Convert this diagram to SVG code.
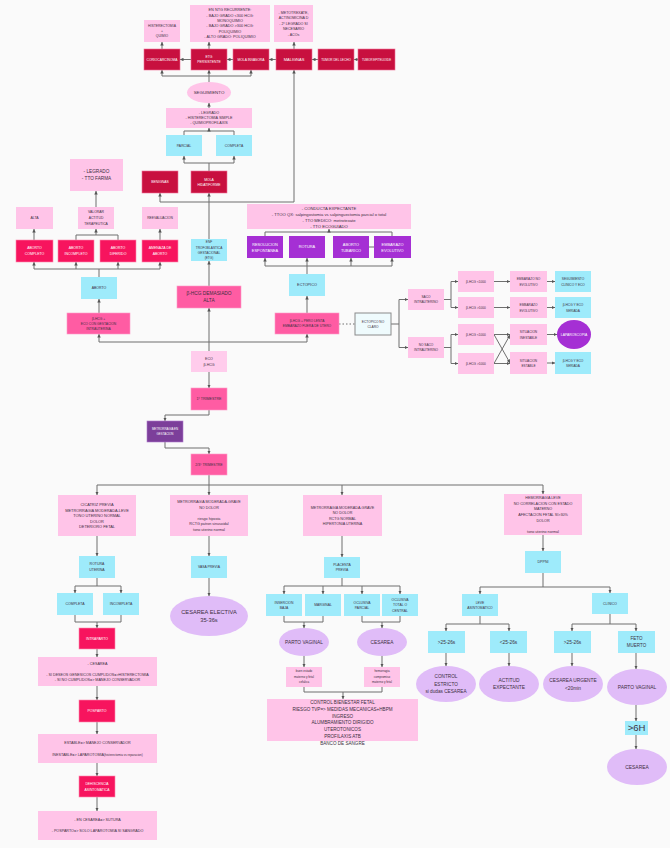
<svg xmlns="http://www.w3.org/2000/svg" width="670" height="848" viewBox="0 0 670 848">
<style>
.lp{fill:#FFC4E8}
.le{fill:#FFCCEC}
.cy{fill:#9EEBFB}
.dk{fill:#C8103F;stroke:#F07098;stroke-width:.6}
.rd{fill:#F7145E;stroke:#FF8AB0;stroke-width:.6}
.hp{fill:#FF5CA3;stroke:#FF9CC8;stroke-width:.6}
.pu{fill:#A52FD4}
.dp{fill:#7C3F9A;stroke:#B07ACC;stroke-width:.6}
.lv{fill:#E0BCF8}
.nc{fill:#EFFBFD;stroke:#8A8A8A;stroke-width:1}
text{font-family:"Liberation Sans",Arial,Helvetica,sans-serif;text-anchor:middle;fill:#3D2F3F}
.w{fill:#fff}
.c path{stroke:#6E6E6E;stroke-width:1;fill:none}
.c path.a{marker-end:url(#ah)}
</style>
<defs>
<marker id="ah" viewBox="0 0 6 6" refX="6" refY="3" markerWidth="3.5" markerHeight="3.5" orient="auto"><path d="M0,0L6,3L0,6z" fill="#555"/></marker>
</defs>
<rect width="670" height="848" fill="#FAFAFA"/>

<g class="c" id="connectors">
<!-- top -->
<path class="a" d="M162,49V42"/>
<path class="a" d="M209,49V42"/>
<path class="a" d="M294,49V42"/>
<path class="a" d="M191,59.5H180"/>
<path class="a" d="M233,59.5H227"/>
<path class="a" d="M276,59.5H269"/>
<path class="a" d="M318,59.5H312"/>
<path class="a" d="M358,59.5H354"/>
<path d="M162,76H251"/>
<path class="a" d="M162,76V70"/>
<path class="a" d="M209,82V70"/>
<path class="a" d="M251,76V70"/>
<path class="a" d="M209,108V103"/>
<path d="M184,135V131H234V135"/>
<path class="a" d="M209,131V128"/>
<path d="M209,171V163M184,163H234"/>
<path class="a" d="M184,163V156"/>
<path class="a" d="M234,163V156"/>
<path class="a" d="M209,239V193"/>
<path d="M160,202H294"/>
<path class="a" d="M160,202V193"/>
<path class="a" d="M294,202V70"/>
<path class="a" d="M209,286V261"/>
<path d="M99,342H307"/>
<path class="a" d="M209,351V308"/>
<path class="a" d="M99,342V334"/>
<path class="a" d="M307,342V334"/>
<path class="a" d="M99,313V299"/>
<path d="M99,277V269M34,269H160"/>
<path class="a" d="M34,269V262"/>
<path class="a" d="M76,269V262"/>
<path class="a" d="M118,269V262"/>
<path class="a" d="M160,269V262"/>
<path class="a" d="M34,240V229"/>
<path d="M76,240V235H118V240"/>
<path class="a" d="M96,235V229"/>
<path class="a" d="M96,207V191"/>
<path class="a" d="M160,240V229"/>
<!-- ectopic -->
<path d="M307,274V266M265,266H392"/>
<path class="a" d="M265,266V258"/>
<path class="a" d="M307,266V258"/>
<path class="a" d="M351,266V258"/>
<path class="a" d="M392,266V258"/>
<path d="M265,236V232H392V236"/>
<path class="a" d="M329,232V229"/>
<path d="M369,247H374"/>
<path class="a" d="M307,313V296"/>
<path d="M339,324H355" stroke-dasharray="1.5,2"/>
<path d="M391,324H399M399,299.5V347.5"/>
<path class="a" d="M399,299.5H408"/>
<path class="a" d="M399,347.5H408"/>
<path d="M444,299.5H451M451,281.5V307.5"/>
<path class="a" d="M451,281.5H458"/>
<path class="a" d="M451,307.5H458"/>
<path class="a" d="M494,281.5H510"/>
<path class="a" d="M547,281.5H555"/>
<path class="a" d="M494,307.5H510"/>
<path class="a" d="M547,307.5H555"/>
<path d="M444,347.5H451M451,334.5V363.5"/>
<path class="a" d="M451,334.5H458"/>
<path class="a" d="M451,363.5H458"/>
<path class="a" d="M494,334.5H510"/>
<path class="a" d="M494,363.5H510"/>
<path class="a" d="M494,334.5L510,363"/>
<path class="a" d="M494,363.5L510,335"/>
<path class="a" d="M547,334.5H557"/>
<path class="a" d="M547,363H555"/>
<!-- bottom -->
<path class="a" d="M209,372V388"/>
<path class="a" d="M209,410V415H165V421"/>
<path class="a" d="M165,442V448H209V454"/>
<path d="M209,475V485M97,485H543"/>
<path class="a" d="M97,485V495"/>
<path class="a" d="M209,485V495"/>
<path class="a" d="M342,485V495"/>
<path class="a" d="M543,485V494"/>
<path class="a" d="M97,536V556"/>
<path class="a" d="M209,536V556"/>
<path class="a" d="M342,536V557"/>
<path class="a" d="M543,535V551"/>
<path d="M97,578V586M75,586H121"/>
<path class="a" d="M75,586V593"/>
<path class="a" d="M121,586V593"/>
<path d="M75,615V622H121V615"/>
<path class="a" d="M97,622V628"/>
<path class="a" d="M97,649V657"/>
<path class="a" d="M97,686V700"/>
<path class="a" d="M97,722V734"/>
<path class="a" d="M97,763V776"/>
<path class="a" d="M97,797V811"/>
<path class="a" d="M209,578V596"/>
<path d="M342,578V586M284,586H400"/>
<path class="a" d="M284,586V594"/>
<path class="a" d="M323,586V594"/>
<path class="a" d="M362,586V594"/>
<path class="a" d="M400,586V594"/>
<path d="M284,616V622H323V616"/>
<path class="a" d="M304,622V628"/>
<path d="M362,616V622H400V616"/>
<path class="a" d="M382,622V628"/>
<path class="a" d="M304,656V667"/>
<path class="a" d="M382,656V667"/>
<path d="M304,687V692H382V687"/>
<path class="a" d="M343,692V699"/>
<path d="M543,573V587M480,587H610"/>
<path class="a" d="M480,587V594"/>
<path class="a" d="M610,587V593"/>
<path d="M480,616V624M446,624H509"/>
<path class="a" d="M446,624V631"/>
<path class="a" d="M509,624V631"/>
<path d="M610,614V624M572,624H636"/>
<path class="a" d="M572,624V631"/>
<path class="a" d="M636,624V631"/>
<path class="a" d="M446,653V666"/>
<path class="a" d="M509,653V666"/>
<path class="a" d="M572,653V666"/>
<path class="a" d="M636,653V669"/>
<path class="a" d="M636,705V721"/>
<path class="a" d="M636,735V749"/>
</g>

<!-- TOP -->
<g id="n_hist"><rect class="lp" x="144" y="20" width="36" height="22"/><text font-size="3.4"><tspan x="162" y="27.2">HISTERECTOMIA</tspan><tspan x="162" y="32.2">+</tspan><tspan x="162" y="37.2">QUIMIO</tspan></text></g>
<g id="n_ntg"><rect class="lp" x="190" y="5" width="80" height="37"/><text font-size="3.8"><tspan x="230" y="11.1">EN NTG RECURRENTE:</tspan><tspan x="230" y="16.5">- BAJO GRADO &lt;300 HCG:</tspan><tspan x="230" y="21.9">MONOQUIMIO</tspan><tspan x="230" y="27.3">- BAJO GRADO &gt;300 HCG:</tspan><tspan x="230" y="32.7">POLIQUIMIO</tspan><tspan x="230" y="38.1">- ALTO GRADO: POLIQUIMIO</tspan></text></g>
<g id="n_meto"><rect class="lp" x="274" y="5" width="39" height="37"/><text font-size="3.6"><tspan x="293.5" y="14">- METOTREXATE,</tspan><tspan x="293.5" y="19.4">ACTINOMICINA D</tspan><tspan x="293.5" y="24.8">- 2º LEGRADO SI</tspan><tspan x="293.5" y="30.2">NECESARIO</tspan><tspan x="293.5" y="35.6">- ACOs</tspan></text></g>
<g id="n_corio"><rect class="dk" x="144" y="49" width="36" height="21"/><text class="w" font-size="3.3" x="162" y="60.7">CORIOCARCINOMA</text></g>
<g id="n_etgp"><rect class="dk" x="191" y="49" width="36" height="21"/><text class="w" font-size="3.4"><tspan x="209" y="58.2">ETG</tspan><tspan x="209" y="63.2">PERSISTENTE</tspan></text></g>
<g id="n_molainv"><rect class="dk" x="233" y="49" width="36" height="21"/><text class="w" font-size="3.3" x="251" y="60.7">MOLA INVASORA</text></g>
<g id="n_malig"><rect class="dk" x="276" y="49" width="36" height="21"/><text class="w" font-size="4" x="294" y="60.9">MALIGNAS</text></g>
<g id="n_lecho"><rect class="dk" x="318" y="49" width="36" height="21"/><text class="w" font-size="3.1" x="336" y="60.6">TUMOR DEL LECHO</text></g>
<g id="n_epit"><rect class="dk" x="358" y="49" width="37" height="21"/><text class="w" font-size="2.9" x="376.5" y="60.5">TUMOR EPITELIOIDE</text></g>
<g id="n_seg"><ellipse class="lp" cx="209" cy="92.5" rx="22" ry="10.5"/><text font-size="4.4" x="209" y="94">SEGUIMIENTO</text></g>
<g id="n_legsimple"><rect class="lp" x="166" y="108" width="86" height="20"/><text font-size="3.7"><tspan x="209" y="113.6">- LEGRADO</tspan><tspan x="209" y="118.9">- HISTERECTOMIA SIMPLE</tspan><tspan x="209" y="124.2">- QUIMIOPROFILAXIS</tspan></text></g>
<g id="n_parcial"><rect class="cy" x="166" y="135" width="36" height="21"/><text font-size="3.4" x="184" y="146.7">PARCIAL</text></g>
<g id="n_completa"><rect class="cy" x="216" y="135" width="36" height="21"/><text font-size="3.4" x="234" y="146.7">COMPLETA</text></g>
<g id="n_benignas"><rect class="dk" x="142" y="171" width="36" height="22"/><text class="w" font-size="3.4" x="160" y="183.2">BENIGNAS</text></g>
<g id="n_molahid"><rect class="dk" x="191" y="171" width="36" height="22"/><text class="w" font-size="3.4"><tspan x="209" y="180.7">MOLA</tspan><tspan x="209" y="186.2">HIDATIFORME</tspan></text></g>
<g id="n_enf"><rect class="cy" x="191" y="239" width="36" height="22"/><text font-size="3.2"><tspan x="209" y="243">ENF</tspan><tspan x="209" y="248.5">TROFOBLASTICA</tspan><tspan x="209" y="254">GESTACIONAL</tspan><tspan x="209" y="259.3">(ETG)</tspan></text></g>
<g id="n_bhcgalta"><rect class="hp" x="177" y="286" width="64" height="22"/><text font-size="4.8"><tspan x="209" y="295.3">β-HCG DEMASIADO</tspan><tspan x="209" y="302">ALTA</tspan></text></g>

<!-- ABORTO -->
<g id="n_legfarma"><rect class="lp" x="70" y="159" width="53" height="32"/><text font-size="4.7"><tspan x="96.5" y="173">- LEGRADO</tspan><tspan x="96.5" y="180.3">- TTO FARMA</tspan></text></g>
<g id="n_alta"><rect class="lp" x="16" y="207" width="37" height="22"/><text font-size="3.5" x="34.5" y="219.2">ALTA</text></g>
<g id="n_valorar"><rect class="lp" x="78" y="207" width="36" height="22"/><text font-size="3.4"><tspan x="96" y="213.3">VALORAR</tspan><tspan x="96" y="219">ACTITUD</tspan><tspan x="96" y="224.8">TERAPEUTICA</tspan></text></g>
<g id="n_reeval"><rect class="lp" x="142" y="207" width="36" height="22"/><text font-size="3.3" x="160" y="219.2">REEVALUACION</text></g>
<g id="n_abcomp"><rect class="rd" x="16" y="240" width="37" height="22"/><text class="w" font-size="3.5"><tspan x="34.5" y="249.2">ABORTO</tspan><tspan x="34.5" y="255">COMPLETO</tspan></text></g>
<g id="n_abinc"><rect class="rd" x="58" y="240" width="36" height="22"/><text class="w" font-size="3.5"><tspan x="76" y="249.2">ABORTO</tspan><tspan x="76" y="255">INCOMPLETO</tspan></text></g>
<g id="n_abdif"><rect class="rd" x="100" y="240" width="36" height="22"/><text class="w" font-size="3.5"><tspan x="118" y="249.2">ABORTO</tspan><tspan x="118" y="255">DIFERIDO</tspan></text></g>
<g id="n_amenaza"><rect class="rd" x="142" y="240" width="36" height="22"/><text class="w" font-size="3.5"><tspan x="160" y="249.2">AMENAZA DE</tspan><tspan x="160" y="255">ABORTO</tspan></text></g>
<g id="n_aborto"><rect class="cy" x="81" y="277" width="36" height="22"/><text font-size="3.5" x="99" y="289.2">ABORTO</text></g>
<g id="n_bhcgeco"><rect class="hp" x="67" y="313" width="63" height="21"/><text font-size="3.3"><tspan x="98.5" y="320.2">β-HCG +</tspan><tspan x="98.5" y="325.2">ECO CON GESTACION</tspan><tspan x="98.5" y="330.2">INTRAUTERINA</tspan></text></g>

<!-- ECTOPICO -->
<g id="n_conducta"><rect class="lp" x="247" y="204" width="164" height="25"/><text font-size="4.2"><tspan x="329" y="209.5">- CONDUCTA EXPECTANTE</tspan><tspan x="329" y="215.5">- TTOO QX: salpingostomia vs salpinguectomia parcial o total</tspan><tspan x="329" y="221.5">- TTO MEDICO: metrotexate</tspan><tspan x="329" y="227.5">- TTO ECOGUIADO</tspan></text></g>
<g id="n_resol"><rect class="pu" x="247" y="236" width="36" height="22"/><text class="w" font-size="3.9"><tspan x="265" y="245.5">RESOLUCION</tspan><tspan x="265" y="251.5">ESPONTANEA</tspan></text></g>
<g id="n_rotura"><rect class="pu" x="289" y="236" width="36" height="22"/><text class="w" font-size="3.9" x="307" y="248.4">ROTURA</text></g>
<g id="n_abtub"><rect class="pu" x="333" y="236" width="36" height="22"/><text class="w" font-size="3.9"><tspan x="351" y="245.5">ABORTO</tspan><tspan x="351" y="251.5">TUBARICO</tspan></text></g>
<g id="n_embevol"><rect class="pu" x="374" y="236" width="37" height="22"/><text class="w" font-size="3.9"><tspan x="392.5" y="245.5">EMBARAZO</tspan><tspan x="392.5" y="251.5">EVOLUTIVO</tspan></text></g>
<g id="n_ectopico"><rect class="cy" x="289" y="274" width="36" height="22"/><text font-size="3.8" x="307" y="286.3">ECTOPICO</text></g>
<g id="n_lenta"><rect class="hp" x="275" y="313" width="64" height="21"/><text font-size="3.3"><tspan x="307" y="322">β-HCG + PERO LENTA</tspan><tspan x="307" y="327.2">EMBARAZO FUERA DE UTERO</tspan></text></g>
<g id="n_noclaro"><rect class="nc" x="355" y="313" width="36" height="22"/><text font-size="3.2"><tspan x="373" y="322.6">ECTOPICO NO</tspan><tspan x="373" y="327.8">CLARO</tspan></text></g>
<g id="n_saco"><rect class="lp" x="408" y="289" width="36" height="21"/><text font-size="3.2"><tspan x="426" y="298.2">SACO</tspan><tspan x="426" y="303.4">INTRAUTERINO</tspan></text></g>
<g id="n_nosaco"><rect class="lp" x="408" y="337" width="36" height="21"/><text font-size="3.2"><tspan x="426" y="346.2">NO SACO</tspan><tspan x="426" y="351.4">INTRAUTERINO</tspan></text></g>
<g id="n_h1"><rect class="lp" x="458" y="271" width="36" height="21"/><text font-size="3.2" x="476" y="282.6">β-HCG &lt;1000</text></g>
<g id="n_h2"><rect class="lp" x="458" y="297" width="36" height="21"/><text font-size="3.2" x="476" y="308.6">β-HCG &gt;1000</text></g>
<g id="n_h3"><rect class="lp" x="458" y="324" width="36" height="21"/><text font-size="3.2" x="476" y="335.6">β-HCG &lt;1000</text></g>
<g id="n_h4"><rect class="lp" x="458" y="353" width="36" height="21"/><text font-size="3.2" x="476" y="364.6">β-HCG &gt;1000</text></g>
<g id="n_embno"><rect class="lp" x="510" y="271" width="37" height="21"/><text font-size="3.2"><tspan x="528.5" y="280.3">EMBARAZO NO</tspan><tspan x="528.5" y="285.5">EVOLUTIVO</tspan></text></g>
<g id="n_embev2"><rect class="lp" x="510" y="297" width="37" height="21"/><text font-size="3.2"><tspan x="528.5" y="306.3">EMBARAZO</tspan><tspan x="528.5" y="311.5">EVOLUTIVO</tspan></text></g>
<g id="n_inest"><rect class="lp" x="510" y="324" width="37" height="21"/><text font-size="3.2"><tspan x="528.5" y="333.3">SITUACION</tspan><tspan x="528.5" y="338.5">INESTABLE</tspan></text></g>
<g id="n_estab"><rect class="lp" x="510" y="352" width="37" height="22"/><text font-size="3.2"><tspan x="528.5" y="361.8">SITUACION</tspan><tspan x="528.5" y="367">ESTABLE</tspan></text></g>
<g id="n_segclin"><rect class="cy" x="555" y="271" width="36" height="21"/><text font-size="3.2"><tspan x="573" y="280.3">SEGUIMIENTO</tspan><tspan x="573" y="285.5">CLINICO Y ECO</tspan></text></g>
<g id="n_ser1"><rect class="cy" x="555" y="297" width="36" height="21"/><text font-size="3.2"><tspan x="573" y="306.3">β-HCG Y ECO</tspan><tspan x="573" y="311.5">SERIADA</tspan></text></g>
<g id="n_lapa"><ellipse class="pu" cx="574" cy="334.5" rx="17" ry="14.5"/><text class="w" font-size="3.4" x="574" y="335.7">LAPAROSCOPIA</text></g>
<g id="n_ser2"><rect class="cy" x="555" y="352" width="36" height="22"/><text font-size="3.2"><tspan x="573" y="361.8">β-HCG Y ECO</tspan><tspan x="573" y="367">SERIADA</tspan></text></g>

<!-- CENTRAL -->
<g id="n_eco"><rect class="le" x="191" y="351" width="36" height="21"/><text font-size="3.6"><tspan x="209" y="359.7">ECO</tspan><tspan x="209" y="365.7">β-HCG</tspan></text></g>
<g id="n_t1"><rect class="hp" x="191" y="388" width="36" height="22"/><text font-size="3.6" x="209" y="400.3">1º TRIMESTRE</text></g>
<g id="n_metrog"><rect class="dp" x="147" y="421" width="36" height="21"/><text class="w" font-size="2.9"><tspan x="165" y="430.2">METRORRAGIA EN</tspan><tspan x="165" y="434.7">GESTACION</tspan></text></g>
<g id="n_t23"><rect class="hp" x="191" y="454" width="36" height="21"/><text font-size="3.5" x="209" y="465.7">2/3º TRIMESTRE</text></g>

<!-- BOTTOM -->
<g id="n_cicatriz"><rect class="lp" x="58" y="495" width="78" height="41"/><text font-size="3.9"><tspan x="97" y="506">CICATRIZ PREVIA</tspan><tspan x="97" y="511.6">METRORRAGIA  MODERADA-LEVE</tspan><tspan x="97" y="517.2">TONO UTERINO NORMAL</tspan><tspan x="97" y="522.8">DOLOR</tspan><tspan x="97" y="528.4">DETERIORO FETAL</tspan></text></g>
<g id="n_vasadesc"><rect class="lp" x="170" y="495" width="78" height="41"/><text font-size="3.7"><tspan x="209" y="503.3">METRORRAGIA  MODERADA-GRAVE</tspan><tspan x="209" y="508.8">NO DOLOR</tspan><tspan x="209" y="519.8">riesgo hipoxia</tspan><tspan x="209" y="525.3">RCTG patron sinusoidal</tspan><tspan x="209" y="530.8">tono uterino normal</tspan></text></g>
<g id="n_placdesc"><rect class="lp" x="303" y="495" width="79" height="41"/><text font-size="3.7"><tspan x="342.5" y="508.5">METRORRAGIA  MODERADA-GRAVE</tspan><tspan x="342.5" y="514">NO DOLOR</tspan><tspan x="342.5" y="519.5">RCTG NORMAL</tspan><tspan x="342.5" y="525">HIPERTONIA UTERINA</tspan></text></g>
<g id="n_hemleve"><rect class="lp" x="504" y="494" width="78" height="41"/><text font-size="3.7"><tspan x="543" y="499.3">HEMORRAGIA LEVE</tspan><tspan x="543" y="504.9">NO CORRELACION CON ESTADO</tspan><tspan x="543" y="510.4">MATERNO</tspan><tspan x="543" y="516">AFECTACION FETAL SI&gt;30%</tspan><tspan x="543" y="521.5">DOLOR</tspan><tspan x="543" y="532.6">tono uterino normal</tspan></text></g>
<g id="n_rotut"><rect class="cy" x="79" y="556" width="36" height="22"/><text font-size="3.5"><tspan x="97" y="565.4">ROTURA</tspan><tspan x="97" y="570.9">UTERINA</tspan></text></g>
<g id="n_comp2"><rect class="cy" x="57" y="593" width="36" height="22"/><text font-size="3.5" x="75" y="605.2">COMPLETA</text></g>
<g id="n_incomp2"><rect class="cy" x="103" y="593" width="36" height="22"/><text font-size="3.5" x="121" y="605.2">INCOMPLETA</text></g>
<g id="n_intra"><rect class="rd" x="79" y="628" width="36" height="21"/><text class="w" font-size="3.5" x="97" y="639.7">INTRAPARTO</text></g>
<g id="n_cesbox"><rect class="lp" x="38" y="657" width="119" height="29"/><text font-size="3.7"><tspan x="97.5" y="664.6">- CESAREA</tspan><tspan x="97.5" y="675.6">- SI DESEOS GENESICOS CUMPLIDOS=&gt;HISTERECTOMIA</tspan><tspan x="97.5" y="681">- SI NO CUMPLIDOS=&gt; MANEJO CONSERVADOR</tspan></text></g>
<g id="n_pospa"><rect class="rd" x="79" y="700" width="36" height="22"/><text class="w" font-size="3.5" x="97" y="712.2">POSPARTO</text></g>
<g id="n_estable"><rect class="lp" x="38" y="734" width="119" height="29"/><text font-size="3.7"><tspan x="97.5" y="744.3">ESTABLE=&gt; MANEJO CONSERVADOR</tspan><tspan x="97.5" y="755.6">INESTABLE=&gt; LAPAROTOMIA<tspan font-size="3">(histerectomia vs reparacion)</tspan></tspan></text></g>
<g id="n_dehis"><rect class="rd" x="79" y="776" width="36" height="21"/><text class="w" font-size="3.4"><tspan x="97" y="785.2">DEHISCENCIA</tspan><tspan x="97" y="790.8">ASINTOMATICA</tspan></text></g>
<g id="n_final"><rect class="lp" x="38" y="811" width="119" height="29"/><text font-size="3.7"><tspan x="97.5" y="821.3">- EN CESAREA=&gt; SUTURA</tspan><tspan x="97.5" y="832.3">- POSPARTO=&gt; SOLO LAPAROTOMIA SI SANGRADO</tspan></text></g>
<g id="n_vasa"><rect class="cy" x="191" y="556" width="36" height="22"/><text font-size="3.4" x="209" y="568.2">VASA PREVIA</text></g>
<g id="n_cesel"><ellipse class="lv" cx="209" cy="616" rx="39" ry="20"/><text font-size="5.7"><tspan x="209" y="614">CESAREA ELECTIVA</tspan><tspan x="209" y="622.2">35-36s</tspan></text></g>
<g id="n_placenta"><rect class="cy" x="324" y="557" width="36" height="21"/><text font-size="3.4"><tspan x="342" y="566">PLACENTA</tspan><tspan x="342" y="571.4">PREVIA</tspan></text></g>
<g id="n_inser"><rect class="cy" x="266" y="594" width="36" height="22"/><text font-size="3.4"><tspan x="284" y="603.6">INSERCION</tspan><tspan x="284" y="609">BAJA</tspan></text></g>
<g id="n_marg"><rect class="cy" x="305" y="594" width="36" height="22"/><text font-size="3.4" x="323" y="606.2">MARGINAL</text></g>
<g id="n_oclpar"><rect class="cy" x="344" y="594" width="36" height="22"/><text font-size="3.4"><tspan x="362" y="603.6">OCLUSIVA</tspan><tspan x="362" y="609">PARCIAL</tspan></text></g>
<g id="n_ocltot"><rect class="cy" x="382" y="594" width="36" height="22"/><text font-size="3.4"><tspan x="400" y="600.8">OCLUSIVA</tspan><tspan x="400" y="606.2">TOTAL O</tspan><tspan x="400" y="611.6">CENTRAL</tspan></text></g>
<g id="n_pv1"><ellipse class="lv" cx="304" cy="642" rx="25" ry="14"/><text font-size="4.8" x="304" y="643.7">PARTO VAGINAL</text></g>
<g id="n_ces1"><ellipse class="lv" cx="382" cy="642" rx="25" ry="14"/><text font-size="4.8" x="382" y="643.7">CESAREA</text></g>
<g id="n_buen"><rect class="lp" x="286" y="667" width="36" height="20"/><text font-size="3"><tspan x="304" y="672.3">buen estado</tspan><tspan x="304" y="677.6">materno y fetal</tspan><tspan x="304" y="682.9">cefalica</tspan></text></g>
<g id="n_hemor"><rect class="lp" x="364" y="667" width="36" height="20"/><text font-size="3"><tspan x="382" y="672.3">hemorragia</tspan><tspan x="382" y="677.6">compromiso</tspan><tspan x="382" y="682.9">materno y fetal</tspan></text></g>
<g id="n_control"><rect class="lp" x="267" y="699" width="151" height="42"/><text font-size="4.6"><tspan x="342.5" y="703.9">CONTROL BIENESTAR FETAL</tspan><tspan x="342.5" y="710.7">RIESGO TVP=&gt; MEDIDAS MECANICAS+HBPM</tspan><tspan x="342.5" y="717.5">INGRESO</tspan><tspan x="342.5" y="724.4">ALUMBRAMIENTO DIRIGIDO</tspan><tspan x="342.5" y="731.2">UTEROTONICOS</tspan><tspan x="342.5" y="738">PROFILAXIS ATB</tspan><tspan x="342.5" y="744.9">BANCO DE SANGRE</tspan></text></g>
<g id="n_dppni"><rect class="cy" x="525" y="551" width="36" height="22"/><text font-size="3.6" x="543" y="563.3">DPPNI</text></g>
<g id="n_leve"><rect class="cy" x="462" y="594" width="36" height="22"/><text font-size="3.4"><tspan x="480" y="603.6">LEVE</tspan><tspan x="480" y="609">ASINTOMATICO</tspan></text></g>
<g id="n_clinico"><rect class="cy" x="592" y="593" width="36" height="21"/><text font-size="3.4" x="610" y="604.7">CLINICO</text></g>
<g id="n_gt1"><rect class="cy" x="428" y="631" width="37" height="22"/><text font-size="4.8" x="446.5" y="643.7">&gt;25-26s</text></g>
<g id="n_lt"><rect class="cy" x="490" y="631" width="37" height="22"/><text font-size="4.8" x="508.5" y="643.7">&lt;25-26s</text></g>
<g id="n_gt2"><rect class="cy" x="554" y="631" width="37" height="22"/><text font-size="4.8" x="572.5" y="643.7">&gt;25-26s</text></g>
<g id="n_feto"><rect class="cy" x="618" y="631" width="37" height="22"/><text font-size="4.5"><tspan x="636.5" y="640.3">FETO</tspan><tspan x="636.5" y="646.8">MUERTO</tspan></text></g>
<g id="n_ctrl"><ellipse class="lv" cx="446" cy="684" rx="30" ry="18"/><text font-size="4.7"><tspan x="446" y="678">CONTROL</tspan><tspan x="446" y="685.6">ESTRICTO</tspan><tspan x="446" y="693">si dudas CESAREA</tspan></text></g>
<g id="n_actitud"><ellipse class="lv" cx="509" cy="684" rx="30" ry="18"/><text font-size="4.9"><tspan x="509" y="682">ACTITUD</tspan><tspan x="509" y="689.4">EXPECTANTE</tspan></text></g>
<g id="n_cesurg"><ellipse class="lv" cx="573" cy="684" rx="30" ry="18"/><text font-size="4.8"><tspan x="573" y="682.4">CESAREA URGENTE</tspan><tspan x="573" y="690">&lt;20min</tspan></text></g>
<g id="n_pv2"><ellipse class="lv" cx="637" cy="687" rx="30" ry="18"/><text font-size="4.9" x="637" y="688.7">PARTO VAGINAL</text></g>
<g id="n_6h"><rect class="cy" x="625" y="721" width="23" height="14"/><text font-size="9.5" x="636.5" y="731.3">&gt;6H</text></g>
<g id="n_ces2"><ellipse class="lv" cx="637" cy="767" rx="30" ry="18"/><text font-size="4.9" x="637" y="768.7">CESAREA</text></g>
</svg>
